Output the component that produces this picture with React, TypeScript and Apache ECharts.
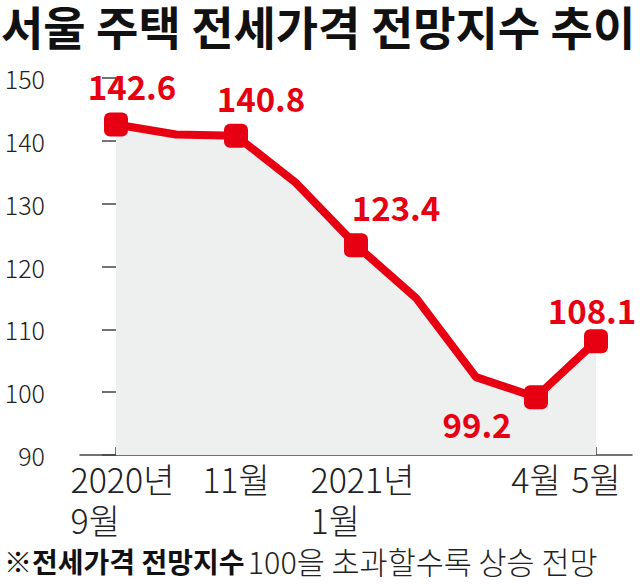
import React, { useEffect, useRef } from "react";
import * as echarts from "echarts";

const months = ["2020년\n9월", "10월", "11월", "12월", "2021년\n1월", "2월", "3월", "4월", "5월"];
const values = [142.6, 141.0, 140.8, 133.3, 123.4, 115.0, 102.4, 99.2, 108.1];
const markedIdx = [0, 2, 4, 7, 8];
const yTicks = [90, 100, 110, 120, 130, 140, 150];

const titleText = "서울 주택 전세가격 전망지수 추이";
const noteBold = "※전세가격 전망지수";
const noteRest = "100을 초과할수록 상승 전망";

const labelOffsets: Record<number, number[]> = {
  0: [16, -38],
  2: [25, -38],
  4: [40, -38],
  7: [-59, 27],
  8: [-4, -31],
};

const RED = "#e60012";
const FONT = '"Noto Sans CJK KR", "Noto Sans", sans-serif';

export default function App() {
  const ref = useRef<HTMLDivElement>(null);
  useEffect(() => {
    if (!ref.current) return;
    const chart = echarts.init(ref.current, undefined, { renderer: "svg" });
    const data = values.map((v, i) => {
      const marked = markedIdx.includes(i);
      return {
        value: [i, v],
        symbol: marked ? "roundRect" : "none",
        symbolSize: marked ? 24 : 0,
        label: marked
          ? {
              show: true,
              position: "inside",
              offset: labelOffsets[i],
              formatter: () => v.toFixed(1),
            }
          : { show: false },
      };
    });
    chart.setOption({
      animation: false,
      textStyle: { fontFamily: FONT },
      title: {
        text: titleText,
        left: 1,
        top: 2,
        padding: 0,
        textStyle: { fontFamily: FONT, fontSize: 46, fontWeight: "bold", color: "#111", lineHeight: 46 },
      },
      graphic: [
        {
          type: "text",
          left: 4,
          top: 546,
          style: {
            text: `{b|${noteBold}} {r|${noteRest}}`,
            rich: {
              b: { fontFamily: FONT, fontSize: 28, fontWeight: "bold", fill: "#111" },
              r: { fontFamily: FONT, fontSize: 30.5, fontWeight: 300, fill: "#222" },
            },
          },
        },
      ],
      grid: { left: 80, right: 8, top: 78, bottom: 132, containLabel: false },
      xAxis: {
        type: "value",
        min: -0.6,
        max: 8.6,
        splitLine: { show: false },
        axisLine: { show: true, lineStyle: { color: "#444", width: 1.5 } },
        axisTick: {
          show: true,
          inside: true,
          length: 8,
          customValues: markedIdx,
          lineStyle: { color: "#444", width: 1.5 },
        },
        axisLabel: {
          customValues: markedIdx,
          margin: 3,
          color: "#222",
          fontFamily: FONT,
          fontSize: 34,
          fontWeight: 300,
          lineHeight: 41,
          formatter: (v: number) => {
            const s = months[Math.round(v)] || "";
            if (s.includes("\n")) {
              return s
                .split("\n")
                .map((p) => `{l|${p}}`)
                .join("\n");
            }
            return s;
          },
          rich: {
            l: {
              align: "left",
              fontFamily: FONT,
              fontSize: 34,
              fontWeight: 300,
              color: "#222",
              lineHeight: 41,
              padding: [0, 0, 0, 13],
            },
          },
        },
      },
      yAxis: {
        type: "value",
        min: yTicks[0],
        max: yTicks[yTicks.length - 1],
        interval: 10,
        offset: 14,
        splitLine: { show: false },
        axisLine: { show: false },
        axisTick: { show: true, length: 14, lineStyle: { color: "#444", width: 1.5 } },
        axisLabel: {
          margin: 21,
          color: "#222",
          fontFamily: FONT,
          fontSize: 25,
          fontWeight: 300,
        },
      },
      series: [
        {
          type: "line",
          data,
          lineStyle: { color: RED, width: 8, join: "round" },
          itemStyle: { color: RED },
          areaStyle: { color: "#eeefef", opacity: 1, origin: "start" },
          label: {
            color: RED,
            fontFamily: FONT,
            fontSize: 33,
            fontWeight: "bold",
          },
          z: 3,
        },
      ],
    });
    return () => chart.dispose();
  }, []);
  return (
    <div
      ref={ref}
      style={{ position: "fixed", left: 0, top: 0, width: 640, height: 587, background: "#fff" }}
    />
  );
}
